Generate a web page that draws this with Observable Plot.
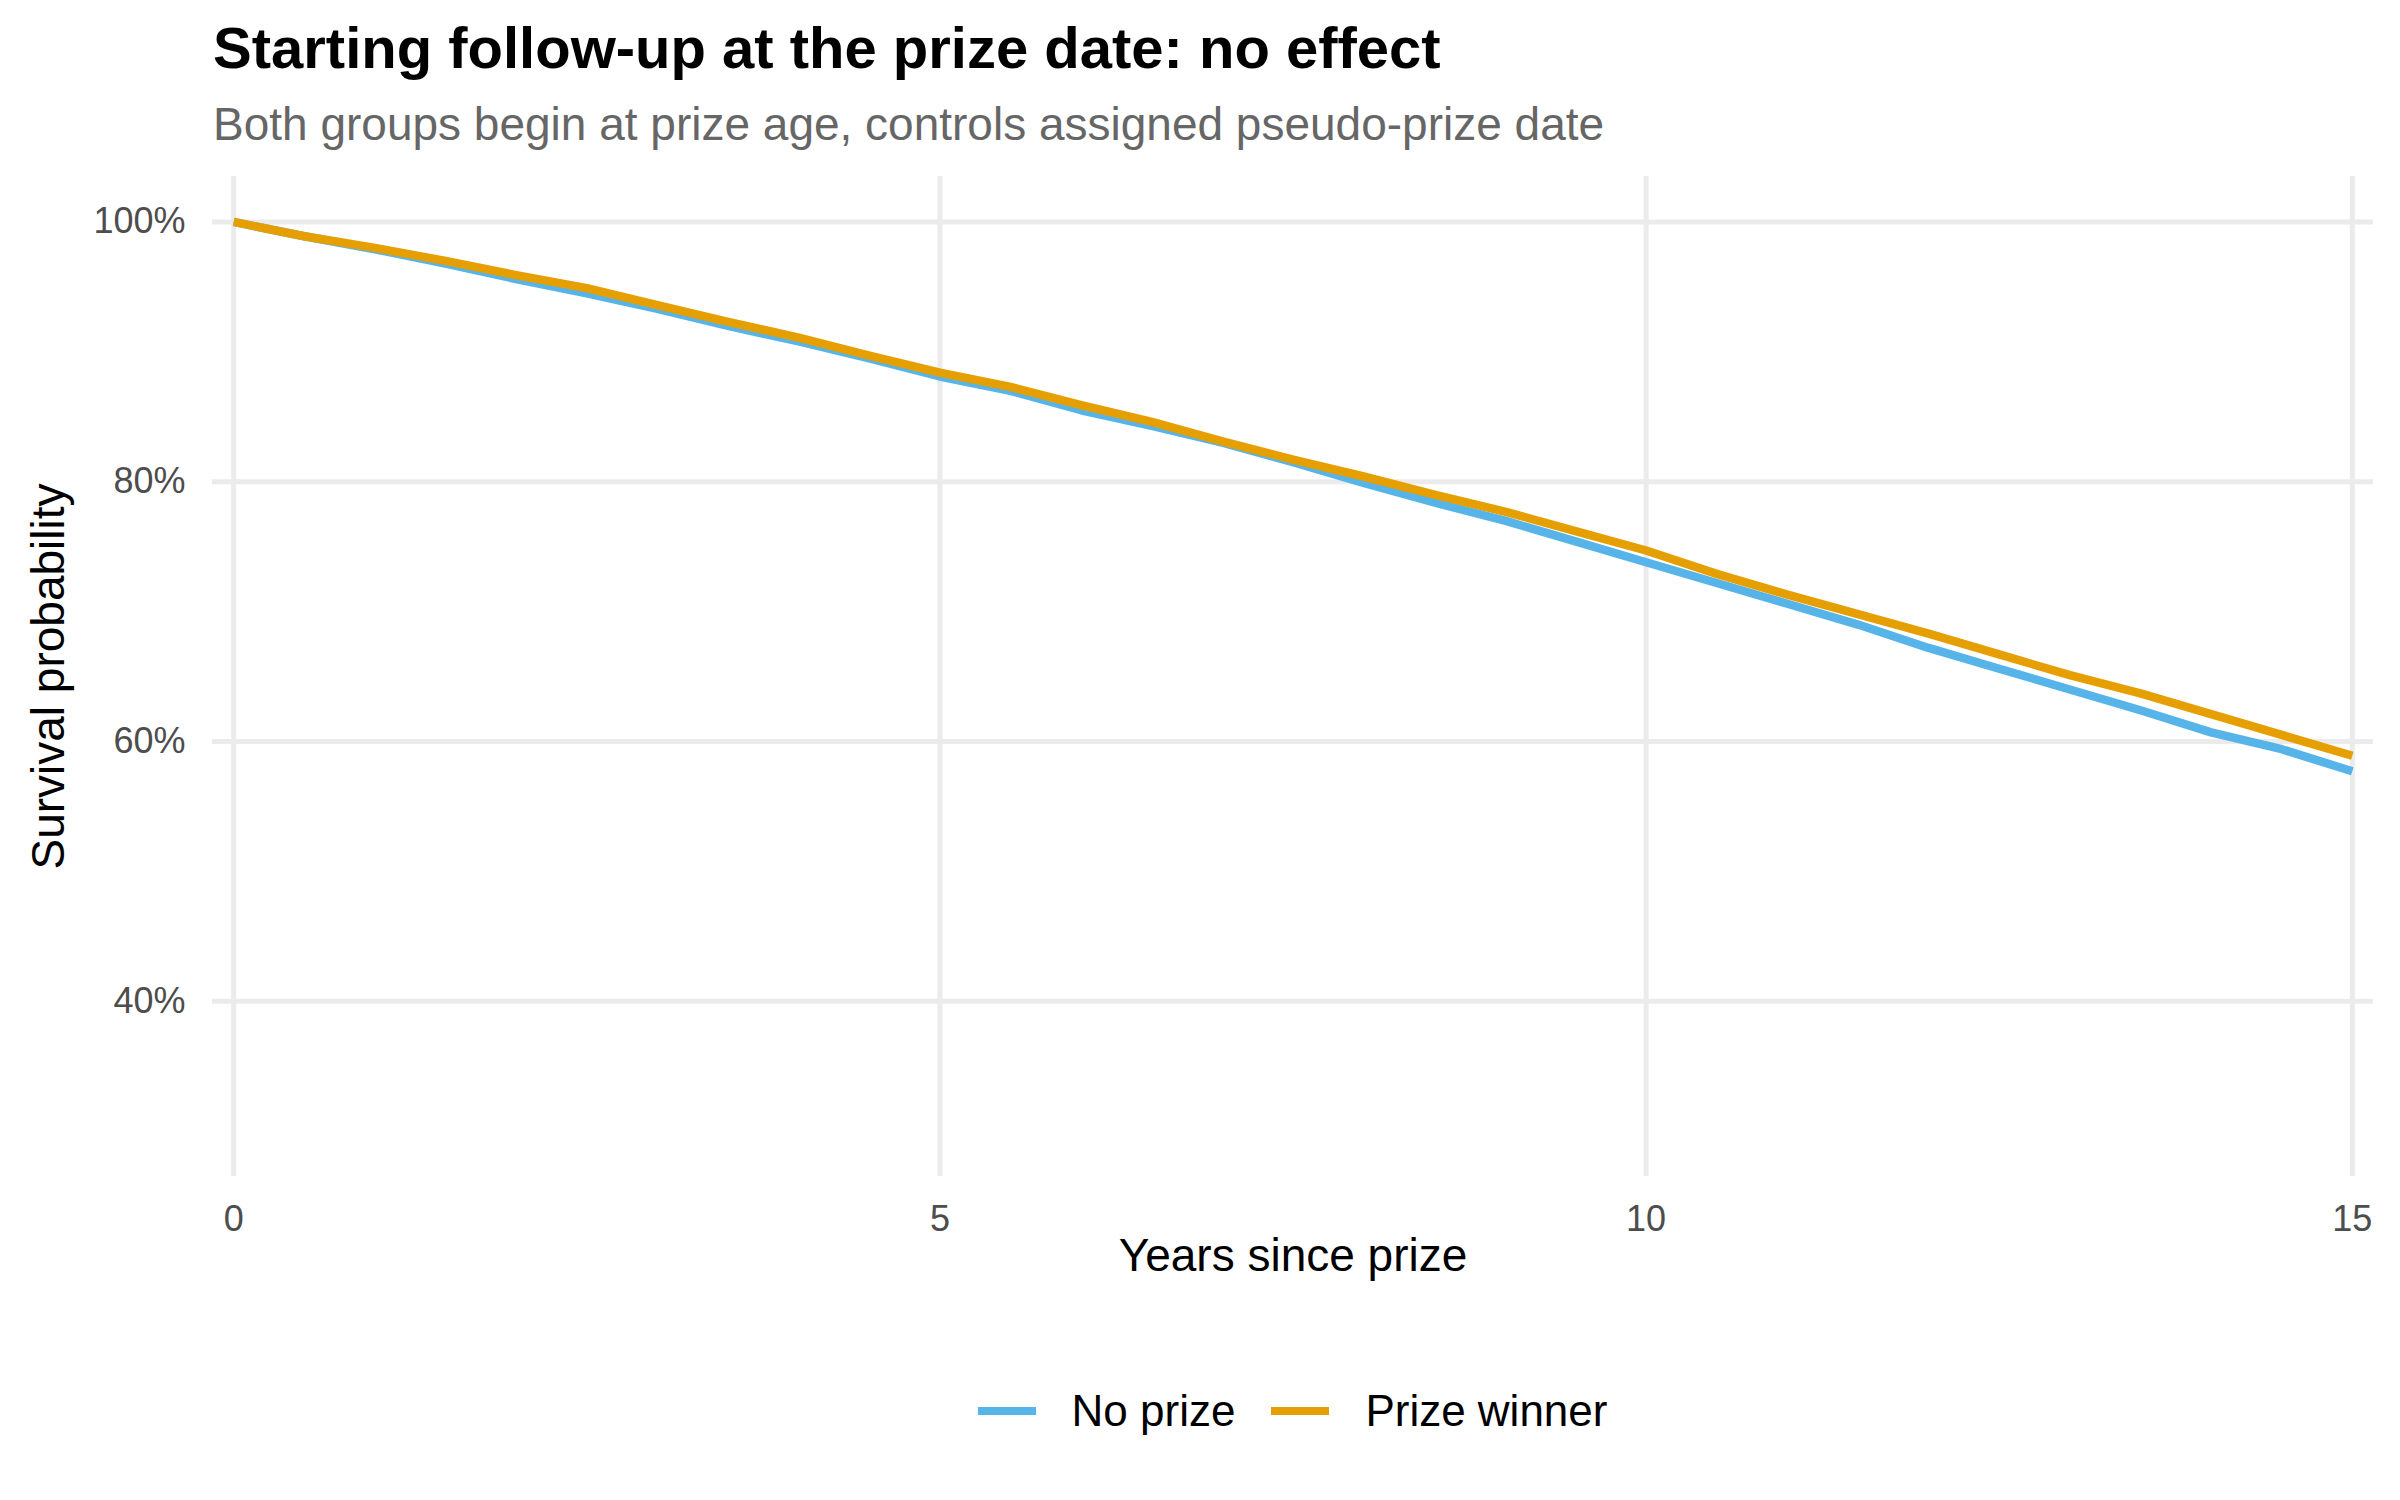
<!DOCTYPE html>
<html>
<head>
<meta charset="utf-8">
<script src="https://cdn.jsdelivr.net/npm/d3@7"></script>
<script src="https://cdn.jsdelivr.net/npm/@observablehq/plot@0.6"></script>
<style>
  html, body { margin: 0; padding: 0; background: #ffffff; }
  body { font-family: "Liberation Sans", Arial, Helvetica, sans-serif; }
  #wrap { position: relative; width: 2400px; height: 1500px; background: #ffffff; }
  #title { position: absolute; left: 213px; top: 19px; font-size: 58px; line-height: 58px; font-weight: bold; color: #000000; white-space: nowrap; }
  #subtitle { position: absolute; left: 213px; top: 101px; font-size: 46px; line-height: 46px; color: #666666; white-space: nowrap; }
  #chart { position: absolute; left: 0; top: 160px; }
  #legend { position: absolute; left: 212px; width: 2161px; top: 1389px; height: 44px; display: flex; justify-content: center; align-items: center; font-size: 44px; line-height: 44px; color: #000000; }
  .item { display: flex; align-items: center; }
  .key { width: 58px; height: 8px; margin-right: 36px; }
  .label { margin-right: 36px; white-space: nowrap; }
  .item:last-child .label { margin-right: 0; }
</style>
</head>
<body>
<div id="wrap">
  <div id="title"></div>
  <div id="subtitle"></div>
  <div id="chart"></div>
  <div id="legend"></div>
</div>
<script>
// ---- data ----
const titleText = "Starting follow-up at the prize date: no effect";
const subtitleText = "Both groups begin at prize age, controls assigned pseudo-prize date";
const xLabel = "Years since prize";
const yLabel = "Survival probability";

const groups = ["No prize", "Prize winner"];
const groupColors = ["#56B4E9", "#E69F00"];

const years = [0, 0.5, 1, 1.5, 2, 2.5, 3, 3.5, 4, 4.5, 5, 5.5, 6, 6.5, 7, 7.5,
               8, 8.5, 9, 9.5, 10, 10.5, 11, 11.5, 12, 12.5, 13, 13.5, 14, 14.5, 15];
// survival (%) for controls
const noPrize = [100, 98.9, 97.9, 96.8, 95.6, 94.5, 93.3, 92.0, 90.8, 89.5, 88.1, 87.0, 85.5, 84.3, 83.0, 81.5,
                 79.9, 78.4, 77.0, 75.4, 73.8, 72.2, 70.6, 69.0, 67.2, 65.6, 64.0, 62.4, 60.7, 59.4, 57.7];
// survival (%) for prize winners
const prizeWinner = [100, 98.9, 98.0, 97.0, 95.9, 94.9, 93.6, 92.3, 91.1, 89.7, 88.4, 87.3, 85.9, 84.6, 83.1, 81.7,
                     80.4, 79.0, 77.7, 76.2, 74.7, 72.9, 71.3, 69.8, 68.3, 66.7, 65.1, 63.7, 62.1, 60.5, 58.9];

const xTicks = [0, 5, 10, 15];
const yTicks = [0.4, 0.6, 0.8, 1.0];

// ---- build table ----
const rows = [
  ...years.map((t, i) => ({t, s: noPrize[i] / 100, group: groups[0]})),
  ...years.map((t, i) => ({t, s: prizeWinner[i] / 100, group: groups[1]}))
];

document.getElementById("title").textContent = titleText;
document.getElementById("subtitle").textContent = subtitleText;

const gridStyle = {stroke: "#EBEBEB", strokeOpacity: 1, strokeWidth: 5};

const chart = Plot.plot({
  width: 2400,
  height: 1150,
  marginTop: 16,
  marginBottom: 134,
  marginLeft: 212,
  marginRight: 27,
  style: {fontFamily: "'Liberation Sans', Arial, Helvetica, sans-serif", background: "#ffffff", color: "#4D4D4D"},
  x: {domain: [-0.15, 15.15]},
  y: {domain: [0.265, 1.035]},
  color: {domain: groups, range: groupColors},
  marks: [
    Plot.gridX(xTicks, gridStyle),
    Plot.gridY(yTicks, gridStyle),
    Plot.axisX(xTicks, {tickSize: 0, tickPadding: 29, fontSize: 36, label: null,
                        tickFormat: d => String(d)}),
    Plot.axisY(yTicks, {tickSize: 0, tickPadding: 27, fontSize: 36, label: null,
                        tickFormat: d => Math.round(d * 100) + "%"}),
    Plot.line(rows, {x: "t", y: "s", z: "group", stroke: "group", strokeWidth: 8.5,
                     strokeLinejoin: "round", strokeLinecap: "butt"}),
    Plot.text([xLabel], {text: d => d, frameAnchor: "bottom", dy: 94, fontSize: 46, fill: "#000000"}),
    Plot.text([yLabel], {text: d => d, frameAnchor: "left", textAnchor: "middle", dx: -163, rotate: -90,
                         fontSize: 46, fill: "#000000"})
  ]
});
document.getElementById("chart").appendChild(chart);

// ---- legend ----
const legend = document.getElementById("legend");
groups.forEach((g, i) => {
  const item = document.createElement("div");
  item.className = "item";
  const key = document.createElement("div");
  key.className = "key";
  key.style.background = groupColors[i];
  const lab = document.createElement("div");
  lab.className = "label";
  lab.textContent = g;
  item.appendChild(key);
  item.appendChild(lab);
  legend.appendChild(item);
});
</script>
</body>
</html>
